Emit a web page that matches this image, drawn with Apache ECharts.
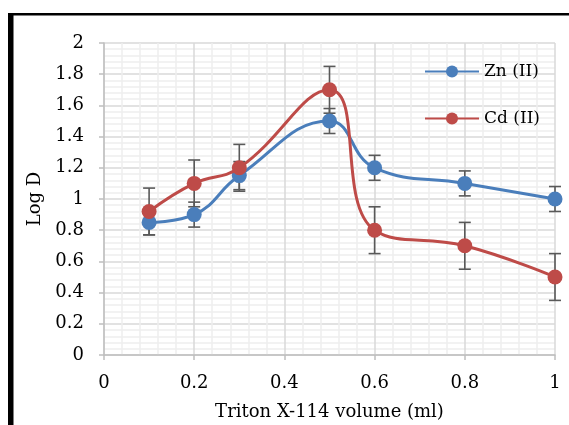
<!DOCTYPE html>
<html>
<head>
<meta charset="utf-8">
<script src="https://cdn.jsdelivr.net/npm/echarts@6/dist/echarts.min.js"></script>
<style>
  html, body { margin: 0; padding: 0; background: #fff; }
  #main { width: 569px; height: 425px; }
</style>
</head>
<body>
<div id="main"></div>
<script>
// Triton X-114 volume (ml)
const volumes = [0.1, 0.2, 0.3, 0.5, 0.6, 0.8, 1.0];
const znLogD = [0.85, 0.90, 1.15, 1.50, 1.20, 1.10, 1.00];
const cdLogD = [0.92, 1.10, 1.20, 1.70, 0.80, 0.70, 0.50];
const znErr = [0.08, 0.08, 0.09, 0.08, 0.08, 0.08, 0.08];
const cdErr = [0.15, 0.15, 0.15, 0.15, 0.15, 0.15, 0.15];

const serif = 'DejaVu Serif';
const blue = '#4a7ebb';
const red = '#be4b48';

function pairs(ys) {
  return volumes.map((x, i) => [x, ys[i]]);
}
function errRows(ys, errs) {
  return volumes.map((x, i) => [x, ys[i] - errs[i], ys[i] + errs[i]]);
}

// error bar: vertical line with caps
function renderErr(params, api) {
  const top = api.coord([api.value(0), api.value(2)]);
  const bot = api.coord([api.value(0), api.value(1)]);
  const w = 6;
  const style = { stroke: '#595959', lineWidth: 1.6 };
  return {
    type: 'group',
    children: [
      { type: 'line', shape: { x1: top[0], y1: top[1], x2: bot[0], y2: bot[1] }, style },
      { type: 'line', shape: { x1: top[0] - w, y1: top[1], x2: top[0] + w, y2: top[1] }, style },
      { type: 'line', shape: { x1: bot[0] - w, y1: bot[1], x2: bot[0] + w, y2: bot[1] }, style }
    ]
  };
}

const chart = echarts.init(document.getElementById('main'));
const option = {
  backgroundColor: '#fff',
  animation: false,
  graphic: [
    { type: 'rect', shape: { x: 8, y: 13, width: 561, height: 2.5 }, style: { fill: '#000' } },
    { type: 'rect', shape: { x: 8, y: 13, width: 5.5, height: 412 }, style: { fill: '#000' } }
  ],
  grid: { left: 104, right: 14, top: 43, bottom: 70, outerBoundsMode: 'none' },
  legend: {
    left: 419,
    top: 58,
    orient: 'vertical',
    itemWidth: 54,
    itemHeight: 15,
    itemGap: 30,
    textStyle: { fontFamily: serif, fontSize: 17, color: '#000' },
    data: ['Zn (II)', 'Cd (II)']
  },
  xAxis: {
    type: 'value',
    min: 0,
    max: 1,
    interval: 0.2,
    name: 'Triton X-114 volume (ml)',
    nameLocation: 'middle',
    nameGap: 48,
    nameTextStyle: { fontFamily: serif, fontSize: 18, color: '#000' },
    axisLine: { lineStyle: { color: '#bfbfbf', width: 1.5 } },
    axisTick: { show: true, length: 5, lineStyle: { color: '#bfbfbf', width: 1.5 } },
    axisLabel: { fontFamily: serif, fontSize: 18, color: '#000', margin: 19 },
    splitLine: { show: true, lineStyle: { color: '#d9d9d9', width: 1.5 } },
    minorTick: { show: false, splitNumber: 5 },
    minorSplitLine: { show: true, lineStyle: { color: '#eeeeee', width: 1.5 } }
  },
  yAxis: {
    type: 'value',
    min: 0,
    max: 2,
    interval: 0.2,
    name: 'Log D',
    nameLocation: 'middle',
    nameGap: 56,
    nameTextStyle: { fontFamily: serif, fontSize: 18, color: '#000' },
    axisLine: { show: true, lineStyle: { color: '#bfbfbf', width: 1.5 } },
    axisTick: { show: true, length: 5, lineStyle: { color: '#bfbfbf', width: 1.5 } },
    axisLabel: { fontFamily: serif, fontSize: 18, color: '#000', margin: 20 },
    splitLine: { show: true, lineStyle: { color: '#d9d9d9', width: 1.5 } },
    minorTick: { show: false, splitNumber: 5 },
    minorSplitLine: { show: true, lineStyle: { color: '#eeeeee', width: 1.5 } }
  },
  series: [
    {
      type: 'custom',
      renderItem: renderErr,
      encode: { x: 0, y: [1, 2] },
      data: errRows(znLogD, znErr),
      z: 1
    },
    {
      type: 'custom',
      renderItem: renderErr,
      encode: { x: 0, y: [1, 2] },
      data: errRows(cdLogD, cdErr),
      z: 1
    },
    {
      name: 'Zn (II)',
      type: 'line',
      data: pairs(znLogD),
      smooth: 0.45,
      symbol: 'circle',
      symbolSize: 15,
      color: blue,
      lineStyle: { color: blue, width: 3 },
      itemStyle: { color: blue },
      z: 2
    },
    {
      name: 'Cd (II)',
      type: 'line',
      data: pairs(cdLogD),
      smooth: 0.45,
      symbol: 'circle',
      symbolSize: 15,
      color: red,
      lineStyle: { color: red, width: 3 },
      itemStyle: { color: red },
      z: 3
    }
  ]
};
chart.setOption(option);
window.onresize = () => {
  chart.resize();
};
</script>
</body>
</html>
